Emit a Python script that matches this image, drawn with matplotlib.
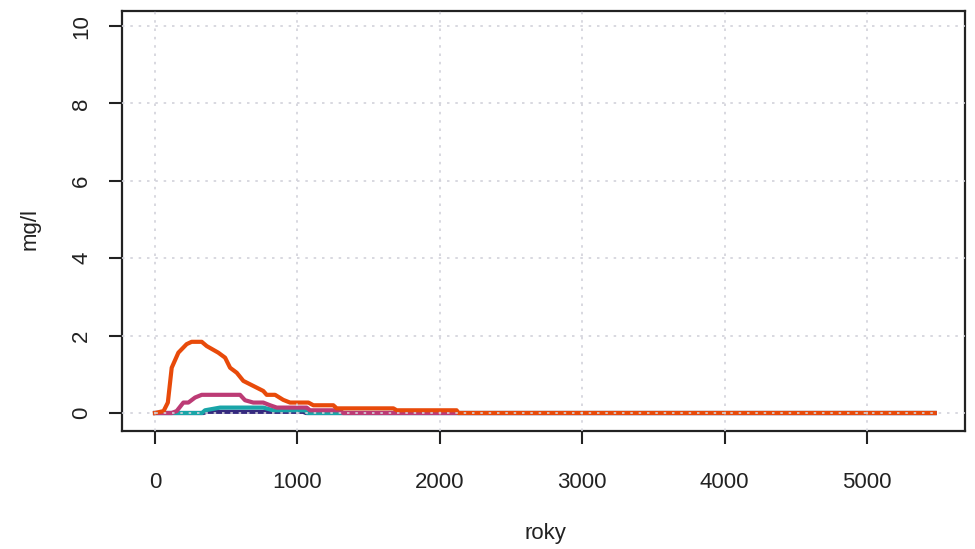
import numpy as np
import matplotlib.pyplot as plt

plt.rcParams['font.family'] = ['Liberation Sans', 'DejaVu Sans']

# koncentrace v case (roky, mg/l), odhad z obrazku
x_orange = [0, 60, 90, 117, 164, 222, 257, 328, 363, 444, 492, 527, 574, 620, 690,
            760, 784, 843, 900, 948, 1077, 1112, 1252, 1276, 1674, 1697, 2118, 2130, 5475]
y_orange = [0, 0.05, 0.27, 1.17, 1.56, 1.78, 1.84, 1.84, 1.73, 1.56, 1.43, 1.17, 1.04, 0.83,
            0.70, 0.57, 0.47, 0.47, 0.34, 0.27, 0.27, 0.20, 0.20, 0.12, 0.12, 0.07, 0.07, 0.0, 0.0]

x_magenta = [0, 117, 152, 199, 234, 281, 328, 597, 632, 690, 760, 808, 855, 1065, 1088,
             1299, 1320, 5475]
y_magenta = [0, 0, 0.05, 0.27, 0.27, 0.40, 0.47, 0.47, 0.33, 0.27, 0.27, 0.20, 0.14, 0.14,
             0.07, 0.07, 0.0, 0.0]

x_teal = [0, 330, 351, 457, 760, 830, 1053, 1070, 5475]
y_teal = [0, 0, 0.07, 0.14, 0.14, 0.07, 0.07, 0.0, 0.0]

x_navy = [0, 340, 360, 1040, 1060, 5475]
y_navy = [0, 0, 0.03, 0.03, 0.0, 0.0]

xticks = [0, 1000, 2000, 3000, 4000, 5000]
yticks = [0, 2, 4, 6, 8, 10]

W, H = 975, 549
fig = plt.figure(figsize=(W / 100, H / 100), dpi=100)
# box: 122..965 px vodorovne, 11..431 px svisle
ax = fig.add_axes([122 / W, 1 - 431 / H, (965 - 122) / W, (431 - 11) / H])

ax.plot(x_navy, y_navy, color='#35297E', lw=3)
ax.plot(x_teal, y_teal, color='#19A5A8', lw=3)
ax.plot(x_magenta, y_magenta, color='#BC3B75', lw=3)
ax.plot(x_orange, y_orange, color='#E84A0A', lw=3)

ax.set_xlim(-232, 5688)
ax.set_ylim(-0.465, 10.39)
ax.set_xticks(xticks)
ax.set_yticks(yticks)
ax.set_axisbelow(False)
ax.grid(True, color='#D2D2DA', linestyle=(0, (1.5, 3.5)), linewidth=1.2)

for s in ax.spines.values():
    s.set_color('#222222')
    s.set_linewidth(1.6)
ax.tick_params(direction='out', length=9.4, width=1.5, color='#222222',
               labelsize=16, labelcolor='#222222')
ax.tick_params(axis='x', pad=20)
ax.tick_params(axis='y', pad=12)
for lbl in ax.get_yticklabels():
    lbl.set_rotation(90)
    lbl.set_va('center')

ax.set_xlabel('roky', fontsize=16, color='#222222', va='center')
ax.set_ylabel('mg/l', fontsize=16, color='#222222', va='center')
ax.xaxis.set_label_coords(0.502, -0.243)
ax.yaxis.set_label_coords(-0.109, 0.48)

fig.savefig('out.png', dpi=100)
